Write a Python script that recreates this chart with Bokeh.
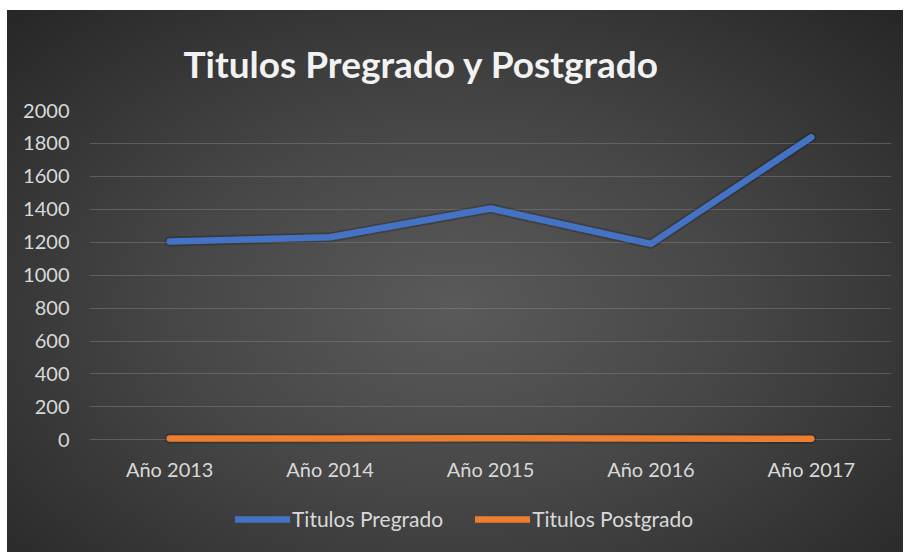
from bokeh.plotting import figure
from bokeh.models import FixedTicker, Legend, LegendItem, Range1d, FactorRange
from bokeh.embed import file_html
from bokeh.resources import INLINE

# ---- data ----
years = ["Año 2013", "Año 2014", "Año 2015", "Año 2016", "Año 2017"]
pregrado = [1205, 1230, 1405, 1190, 1838]
postgrado = [8, 9, 10, 8, 7]
y_ticks = [0, 200, 400, 600, 800, 1000, 1200, 1400, 1600, 1800, 2000]
title_text = "Titulos Pregrado y Postgrado"
series_names = ["Titulos Pregrado", "Titulos Postgrado"]

BLUE = "#4472C4"
ORANGE = "#ED7D31"
LABEL = "#d9d9d9"
FONT = "Lato"

# the frame reaches down to the bottom edge so that the legend can sit inside it
p = figure(
    width=896, height=542,
    x_range=FactorRange(*years, range_padding=0),
    y_range=Range1d(-684, 2000),
    output_backend="svg", toolbar_location=None,
    min_border_left=82, min_border_right=12,
    min_border_top=100, min_border_bottom=0,
    title=title_text,
)
p.margin = (10, 0, 0, 7)
p.border_fill_color = None
p.background_fill_color = None
p.outline_line_color = None
p.styles = {
    "background": "radial-gradient(ellipse at 50% 55%, #5a5a5a 0%, #464646 45%, #262626 100%)",
}

# title
p.title.align = "left"
p.title.offset = 94
p.title.text_font = FONT
p.title.text_font_style = "bold"
p.title.text_font_size = "37px"
p.title.text_color = "#f2f2f2"
p.title.standoff = 49

# axes
p.yaxis.ticker = FixedTicker(ticks=y_ticks)
for ax in (p.xaxis[0], p.yaxis[0]):
    ax.axis_line_color = None
    ax.major_tick_line_color = None
    ax.minor_tick_line_color = None
    ax.major_label_text_color = LABEL
    ax.major_label_text_font = FONT
    ax.major_label_text_font_size = "20px"
p.yaxis.major_label_standoff = 14
p.xaxis.fixed_location = 0
p.xaxis.major_label_standoff = 11

p.xgrid.grid_line_color = None
p.ygrid.grid_line_color = "#808080"
p.ygrid.grid_line_alpha = 0.5
p.ygrid.grid_line_width = 1

# soft shadows under the lines
p.line(years, pregrado, line_color="black", line_alpha=0.2, line_width=10,
       line_cap="round", line_join="round")
p.line(years, postgrado, line_color="black", line_alpha=0.2, line_width=10,
       line_cap="round", line_join="round")

r1 = p.line(years, pregrado, line_color=BLUE, line_width=6.5,
            line_cap="round", line_join="round")
r2 = p.line(years, postgrado, line_color=ORANGE, line_width=6.5,
            line_cap="round", line_join="round")

legend = Legend(
    items=[LegendItem(label=series_names[0], renderers=[r1]),
           LegendItem(label=series_names[1], renderers=[r2])],
    orientation="horizontal",
    location=(146, 21),
    glyph_width=55, glyph_height=24, label_height=24,
    label_standoff=2, spacing=32,
    padding=0, margin=0,
    border_line_color=None, background_fill_color=None, background_fill_alpha=0,
    label_text_font=FONT, label_text_font_size="21px", label_text_color=LABEL,
)
p.add_layout(legend, "center")

open("out.html", "w").write(file_html(p, INLINE))
